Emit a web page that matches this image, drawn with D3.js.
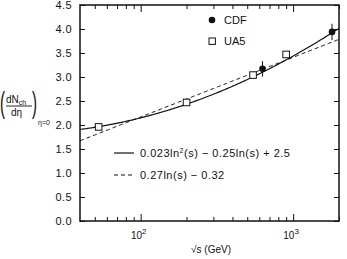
<!DOCTYPE html>
<html>
<head>
<meta charset="utf-8">
<script src="https://cdn.jsdelivr.net/npm/d3@7"></script>
<style>
  body { margin: 0; background: #fff; }
  svg text { font-family: "Liberation Sans", Arial, sans-serif; fill: #111; }
</style>
</head>
<body>
<div id="chart"></div>
<script>
// Charged multiplicity at eta=0 vs sqrt(s)
const cdfEnergy = [630, 1800];
const cdfValue = [3.17, 3.94];
const cdfError = [0.16, 0.17];
const ua5Energy = [53, 200, 546, 900];
const ua5Value = [1.96, 2.47, 3.04, 3.47];
// fit coefficients in ln(s): quadratic [a, b, c] and linear [m, k]
const quadFit = [0.023, -0.25, 2.5];
const linFit = [0.27, -0.32];
const yTicks = [0, 0.5, 1, 1.5, 2, 2.5, 3, 3.5, 4, 4.5];
const xMajor = [100, 1000];
const xMinor = [50, 60, 70, 80, 90, 200, 300, 400, 500, 600, 700, 800, 900, 2000];

const width = 347, height = 259;
const margin = { top: 5, right: 8, bottom: 38, left: 80 };
const innerW = width - margin.left - margin.right;
const innerH = height - margin.top - margin.bottom;

const svg = d3.select('#chart').append('svg')
  .attr('width', width)
  .attr('height', height);

const g = svg.append('g').attr('transform', `translate(${margin.left},${margin.top})`);

const x = d3.scaleLog().domain([40, 2000]).range([0, innerW]);
const y = d3.scaleLinear().domain([0, 4.5]).range([innerH, 0]);

// fit curves, sampled along sqrt(s)
const samples = d3.range(0, 201).map(i => 40 * Math.pow(2000 / 40, i / 200));
const quadF = e => { const L = Math.log(e * e); return quadFit[0] * L * L + quadFit[1] * L + quadFit[2]; };
const linF = e => linFit[0] * Math.log(e * e) + linFit[1];

const clipId = 'plot-clip';
svg.append('defs').append('clipPath').attr('id', clipId)
  .append('rect').attr('width', innerW).attr('height', innerH);

const line = f => d3.line().x(d => x(d)).y(d => y(f(d)));
g.append('path')
  .attr('clip-path', `url(#${clipId})`)
  .attr('d', line(quadF)(samples))
  .attr('fill', 'none').attr('stroke', '#111').attr('stroke-width', 1.2);
g.append('path')
  .attr('clip-path', `url(#${clipId})`)
  .attr('d', line(linF)(samples))
  .attr('fill', 'none').attr('stroke', '#111').attr('stroke-width', 1)
  .attr('stroke-dasharray', '4,3');

// axes with inward ticks
const tickFmt = () => '';
g.append('g').attr('transform', `translate(0,${innerH})`)
  .call(d3.axisTop(x).tickValues(xMajor).tickSize(7).tickFormat(tickFmt));
g.append('g').attr('transform', `translate(0,${innerH})`)
  .call(d3.axisTop(x).tickValues(xMinor).tickSize(4).tickFormat(tickFmt));
g.append('g')
  .call(d3.axisBottom(x).tickValues(xMajor).tickSize(7).tickFormat(tickFmt));
g.append('g')
  .call(d3.axisBottom(x).tickValues(xMinor).tickSize(4).tickFormat(tickFmt));
g.append('g')
  .call(d3.axisRight(y).tickValues(yTicks).tickSize(5).tickFormat(tickFmt));
g.append('g').attr('transform', `translate(${innerW},0)`)
  .call(d3.axisLeft(y).tickValues(yTicks).tickSize(5).tickFormat(tickFmt));
g.selectAll('.domain').remove();
g.selectAll('.tick line').attr('stroke', '#111').attr('stroke-width', 1);

g.append('rect')
  .attr('width', innerW).attr('height', innerH)
  .attr('fill', 'none').attr('stroke', '#111').attr('stroke-width', 1.5);

// y tick labels
g.selectAll('text.ylab')
  .data(yTicks)
  .join('text')
  .attr('class', 'ylab')
  .attr('x', -8)
  .attr('y', d => y(d) + 4)
  .attr('text-anchor', 'end')
  .attr('font-size', 11)
  .attr('letter-spacing', 0.4)
  .text(d => d.toFixed(1));

// x tick labels 10^2, 10^3
xMajor.forEach(v => {
  const t = g.append('text')
    .attr('x', x(v) - 2)
    .attr('y', innerH + 18)
    .attr('text-anchor', 'middle')
    .attr('font-size', 10);
  t.append('tspan').text('10');
  t.append('tspan').attr('dy', -5).attr('font-size', 8).text(String(Math.round(Math.log10(v))));
});

// x axis title
svg.append('text')
  .attr('x', 211).attr('y', 253)
  .attr('text-anchor', 'middle')
  .attr('font-size', 10)
  .text('\u221As  (GeV)');

// y axis title
const yt = svg.append('g');
yt.append('text').attr('x', 0).attr('y', 113).attr('font-size', 30)
  .attr('transform', 'scale(0.5,1)').text('(');
yt.append('text').attr('x', 32 / 0.5).attr('y', 113).attr('font-size', 30)
  .attr('transform', 'scale(0.5,1)').text(')');
const num = yt.append('text').attr('x', 6).attr('y', 103).attr('font-size', 10);
num.append('tspan').text('dN');
num.append('tspan').attr('dy', 2).attr('font-size', 7).text('ch');
yt.append('line').attr('x1', 6).attr('x2', 32).attr('y1', 106).attr('y2', 106)
  .attr('stroke', '#111').attr('stroke-width', 0.9);
yt.append('text').attr('x', 11).attr('y', 116).attr('font-size', 10).text('d\u03b7');
yt.append('text').attr('x', 38).attr('y', 125).attr('font-size', 7)
  .style('fill', '#111').text('\u03b7=0');

// data points
const cdf = cdfEnergy.map((e, i) => ({ e, v: cdfValue[i], err: cdfError[i] }));
const ua5 = ua5Energy.map((e, i) => ({ e, v: ua5Value[i] }));

g.selectAll('line.err')
  .data(cdf)
  .join('line')
  .attr('class', 'err')
  .attr('x1', d => x(d.e)).attr('x2', d => x(d.e))
  .attr('y1', d => y(d.v - d.err)).attr('y2', d => y(d.v + d.err))
  .attr('stroke', '#111').attr('stroke-width', 1);
g.selectAll('circle.cdf')
  .data(cdf)
  .join('circle')
  .attr('class', 'cdf')
  .attr('cx', d => x(d.e)).attr('cy', d => y(d.v))
  .attr('r', 3.3)
  .attr('fill', '#111');
g.selectAll('rect.ua5')
  .data(ua5)
  .join('rect')
  .attr('class', 'ua5')
  .attr('x', d => x(d.e) - 3.3).attr('y', d => y(d.v) - 3.3)
  .attr('width', 6.6).attr('height', 6.6)
  .attr('fill', '#fff').attr('stroke', '#111').attr('stroke-width', 1);

// point legend
svg.append('circle').attr('cx', 212).attr('cy', 20).attr('r', 3.3).attr('fill', '#111');
svg.append('text').attr('x', 224).attr('y', 24).attr('font-size', 11).text('CDF');
svg.append('rect').attr('x', 209).attr('y', 38).attr('width', 6.4).attr('height', 6.4)
  .attr('fill', '#fff').attr('stroke', '#111');
svg.append('text').attr('x', 224).attr('y', 45).attr('font-size', 11).text('UA5');

// fit legend
svg.append('line').attr('x1', 114).attr('x2', 134).attr('y1', 153).attr('y2', 153)
  .attr('stroke', '#111').attr('stroke-width', 1.2);
const q = svg.append('text').attr('x', 140).attr('y', 157).attr('font-size', 11)
  .attr('letter-spacing', 0.5);
q.append('tspan').text('0.023ln');
q.append('tspan').attr('dy', -4).attr('font-size', 7).text('2');
q.append('tspan').attr('dy', 4).text('(s)  \u2212  0.25ln(s)  +  2.5');
svg.append('line').attr('x1', 114).attr('x2', 134).attr('y1', 175).attr('y2', 175)
  .attr('stroke', '#111').attr('stroke-width', 1).attr('stroke-dasharray', '4,3');
svg.append('text').attr('x', 140).attr('y', 179).attr('font-size', 11)
  .attr('letter-spacing', 0.5)
  .text('0.27ln(s)  \u2212  0.32');
</script>
</body>
</html>
